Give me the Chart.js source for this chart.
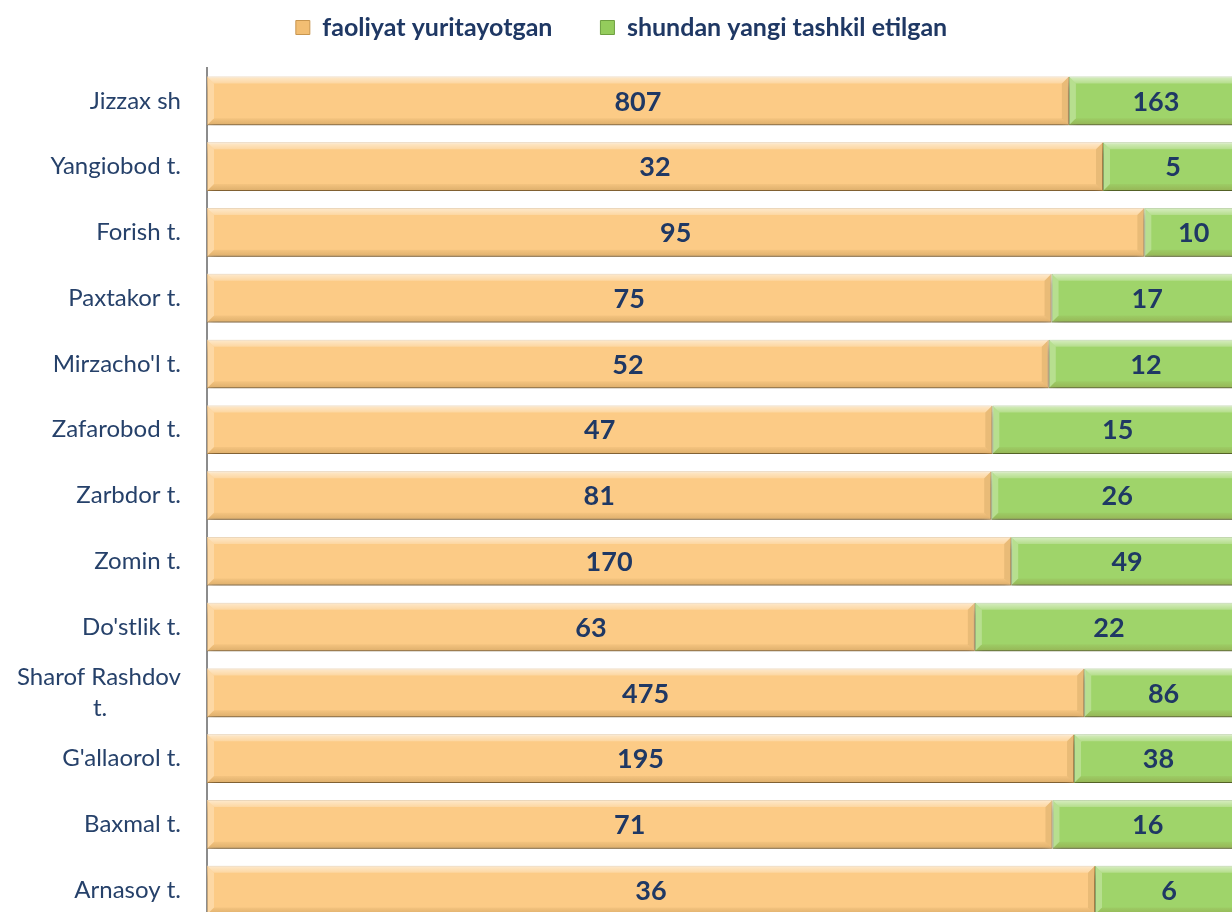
<!DOCTYPE html>
<html>
<head>
<meta charset="utf-8">
<script src="https://cdn.jsdelivr.net/npm/chart.js@4/dist/chart.umd.min.js"></script>
<style>
html,body{margin:0;padding:0;background:#fff;overflow:hidden;width:1232px;height:912px;}
#wrap{position:absolute;left:0;top:0;width:1243px;height:923px;}
</style>
</head>
<body>
<div id="wrap"><canvas id="c" width="1243" height="923"></canvas></div>
<script>
const categories = ["Jizzax sh","Yangiobod t.","Forish t.","Paxtakor t.","Mirzacho'l t.","Zafarobod t.","Zarbdor t.","Zomin t.","Do'stlik t.","Sharof Rashdov t.","G'allaorol t.","Baxmal t.","Arnasoy t."];
const faoliyat = [807,32,95,75,52,47,81,170,63,475,195,71,36];
const yangi    = [163,5,10,17,12,15,26,49,22,86,38,16,6];
const seriesNames = ["faoliyat yuritayotgan","shundan yangi tashkil etilgan"];

const totals = faoliyat.map((v,i)=>v+yangi[i]);
const pctA = faoliyat.map((v,i)=>v/totals[i]*100);
const pctB = yangi.map((v,i)=>v/totals[i]*100);
const rawValues = [faoliyat, yangi];

const NAVY = '#1F3864';
const LABEL = '#26416A';
const TICK_FONT = "Lato";
const TICK_SIZE = 24;

// centre the wrapped second line of the long label
const mctx = document.createElement('canvas').getContext('2d');
mctx.font = TICK_SIZE + "px " + TICK_FONT;
function wrapLabel(lbl){
  if (lbl === "Sharof Rashdov t."){
    const a = "Sharof Rashdov", b = "t.";
    const diff = (mctx.measureText(a).width - mctx.measureText(b).width)/2;
    const n = Math.max(0, Math.round(diff / mctx.measureText('\u00A0').width));
    return [a, b + '\u00A0'.repeat(n)];
  }
  return lbl;
}

const bevelPlugin = {
  id:'bevel',
  beforeDatasetDraw(chart){
    const ctx = chart.ctx;
    ctx.save();
    ctx.shadowColor = 'rgba(0,0,0,0.45)';
    ctx.shadowBlur = 9;
    ctx.shadowOffsetY = 6;
  },
  afterDatasetDraw(chart){
    chart.ctx.restore();
  },
  afterDatasetsDraw(chart){
    const ctx = chart.ctx;
    const d = 7;
    chart.data.datasets.forEach((ds, di)=>{
      const meta = chart.getDatasetMeta(di);
      meta.data.forEach((el)=>{
        const l = Math.min(el.x, el.base), r = Math.max(el.x, el.base);
        const t = el.y - el.height/2, b = el.y + el.height/2;
        const poly = (pts, fill)=>{ ctx.beginPath(); ctx.moveTo(pts[0][0],pts[0][1]); for(let k=1;k<pts.length;k++) ctx.lineTo(pts[k][0],pts[k][1]); ctx.closePath(); ctx.fillStyle=fill; ctx.fill(); };
        ctx.save();
        const gt = ctx.createLinearGradient(0,t,0,t+d);
        gt.addColorStop(0,'rgba(255,255,255,0.6)');
        gt.addColorStop(1,'rgba(255,255,255,0.22)');
        poly([[l,t],[r,t],[r-d,t+d],[l+d,t+d]], gt);
        poly([[l,t],[l+d,t+d],[l+d,b-d],[l,b]], 'rgba(255,255,255,0.25)');
        const gb = ctx.createLinearGradient(0,b-d,0,b);
        gb.addColorStop(0,'rgba(120,80,20,0.06)');
        gb.addColorStop(1,'rgba(120,80,20,0.24)');
        poly([[l,b],[l+d,b-d],[r-d,b-d],[r,b]], gb);
        poly([[r,t],[r,b],[r-d,b-d],[r-d,t+d]], 'rgba(100,70,20,0.12)');
        ctx.restore();
      });
    });
    // value labels
    ctx.save();
    ctx.font = "bold 27px Lato";
    ctx.fillStyle = NAVY;
    ctx.textAlign = 'center';
    ctx.textBaseline = 'middle';
    chart.data.datasets.forEach((ds, di)=>{
      const meta = chart.getDatasetMeta(di);
      meta.data.forEach((el, i)=>{
        const cx = (el.x + el.base)/2;
        ctx.fillText(String(rawValues[di][i]), cx, el.y + 1);
      });
    });
    ctx.restore();
  }
};

const legendFit = {
  id:'legendFit',
  beforeInit(chart){
    const orig = chart.legend.fit;
    chart.legend.fit = function(){ orig.bind(chart.legend)(); this.height = 101; };
  }
};

new Chart(document.getElementById('c'), {
  type:'bar',
  data:{
    labels: categories,
    datasets:[
      {label: seriesNames[0], data: pctA, backgroundColor:'#FCCB86', borderColor:'#D9A763', borderWidth:1, borderSkipped:false},
      {label: seriesNames[1], data: pctB, backgroundColor:'#9FD46A', borderColor:'#77A948', borderWidth:1, borderSkipped:false}
    ]
  },
  options:{
    indexAxis:'y',
    responsive:false,
    animation:false,
    devicePixelRatio:1,
    layout:{padding:{top:-33, left:0, right:0, bottom:0}},
    datasets:{bar:{categoryPercentage:1, barPercentage:0.74}},
    scales:{
      x:{stacked:true, min:0, max:100, display:false},
      y:{
        stacked:true,
        grid:{display:false, drawTicks:false},
        border:{display:true, color:'#8C8C8C', width:2},
        ticks:{
          autoSkip:false, padding:26, color:LABEL,
          font:{family:TICK_FONT, size:TICK_SIZE, lineHeight:1.3},
          callback(v){ return wrapLabel(categories[v]); }
        },
        afterFit(scale){ scale.width = 207; scale.paddingTop = 0; scale.paddingBottom = 0; }
      }
    },
    plugins:{
      tooltip:{enabled:false},
      legend:{
        position:'top',
        labels:{
          boxWidth:14, boxHeight:14, padding:48,
          color:NAVY,
          font:{family:'Lato', size:25, weight:'bold'},
          generateLabels(chart){
            return chart.data.datasets.map((ds,i)=>({
              text: ds.label,
              fillStyle: i===0 ? '#F2BE73' : '#94CC5C',
              strokeStyle: i===0 ? '#C8964F' : '#6E9F40',
              lineWidth:1,
              fontColor: NAVY,
              datasetIndex:i,
              hidden:false
            }));
          }
        }
      }
    }
  },
  plugins:[legendFit, bevelPlugin]
});
</script>
</body>
</html>
